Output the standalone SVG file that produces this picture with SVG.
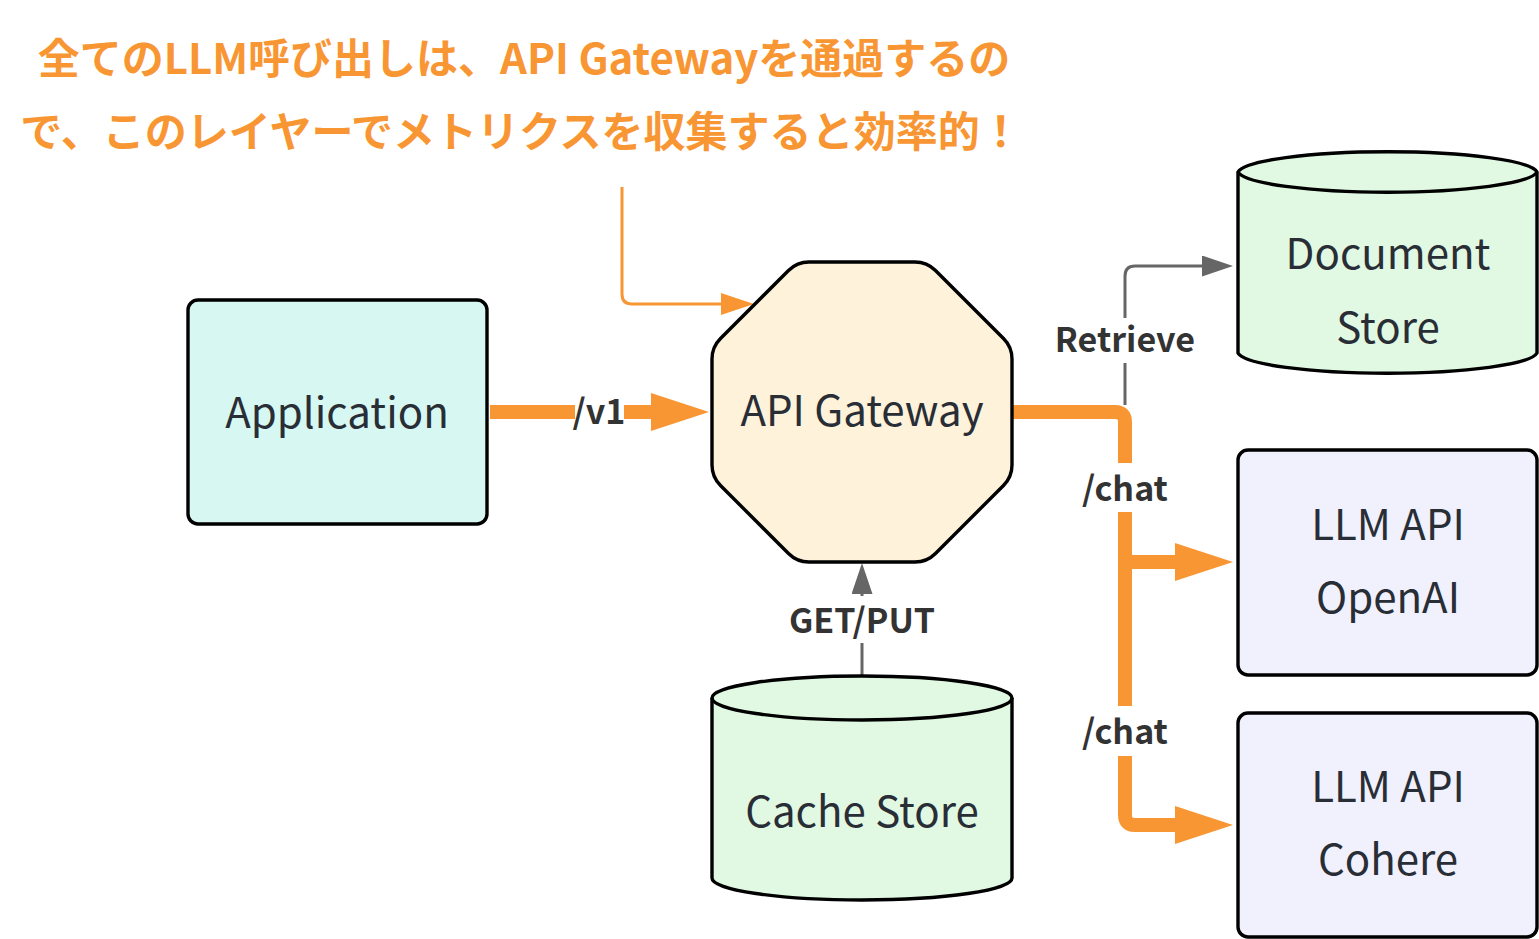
<svg xmlns="http://www.w3.org/2000/svg" width="1539" height="939" viewBox="0 0 1539 939">
<style>
.node{stroke:#000;stroke-width:3.4}
.nt{font-family:"Noto Sans CJK JP","Noto Sans",sans-serif;font-size:42px;fill:#292e36;text-anchor:middle}
.lt{font-family:"Noto Sans CJK JP","Noto Sans",sans-serif;font-size:34px;font-weight:bold;fill:#333;text-anchor:middle}
.lbg{fill:#fff}
.thick{fill:none;stroke:#f99634;stroke-width:14}
.thin{fill:none;stroke:#f99634;stroke-width:3}
.gray{fill:none;stroke:#666;stroke-width:3}
.title{font-family:"Noto Sans CJK JP",sans-serif;font-size:42px;font-weight:bold;fill:#f99634;text-anchor:middle}
</style>
<defs>
<marker id="ob" markerUnits="userSpaceOnUse" viewBox="0 0 58 38" markerWidth="58" markerHeight="38" refX="0" refY="19" orient="auto"><path d="M0,0 L58,19 L0,38 Z" fill="#f99634"/></marker>
<marker id="os" markerUnits="userSpaceOnUse" viewBox="0 0 33 22" markerWidth="33" markerHeight="22" refX="0" refY="11" orient="auto"><path d="M0,0 L33,11 L0,22 Z" fill="#f99634"/></marker>
<marker id="gr" markerUnits="userSpaceOnUse" viewBox="0 0 31 21" markerWidth="31" markerHeight="21" refX="0" refY="10.5" orient="auto"><path d="M0,0 L31,10.5 L0,21 Z" fill="#666"/></marker>
</defs>
<rect width="1539" height="939" fill="#fff"/>
<g id="title">
<text class="title" x="524" y="74">全てのLLM呼び出しは、API Gatewayを通過するの</text>
<text class="title" x="521" y="147">で、このレイヤーでメトリクスを収集すると効率的！</text>
</g>
<g id="connectors">
<path class="thin" d="M622,187 L622,294 Q622,304 632,304 L721,304" marker-end="url(#os)"/>
<path class="thick" d="M490,412 L651,412" marker-end="url(#ob)"/>
<path class="thick" d="M1013,412 L1115,412 Q1125,412 1125,422 L1125,815 Q1125,825 1135,825 L1175,825" marker-end="url(#ob)"/>
<path class="thick" d="M1125,562 L1175,562" marker-end="url(#ob)"/>
<path class="gray" d="M1125,405 L1125,276 Q1125,266 1135,266 L1202,266" marker-end="url(#gr)"/>
<path class="gray" d="M862,676 L862,594" marker-end="url(#gr)"/>
<rect class="lbg" x="575" y="394" width="49" height="38"/>
<text class="lt" x="599" y="424">/v1</text>
<rect class="lbg" x="1056" y="318" width="139" height="45"/>
<text class="lt" x="1125" y="352">Retrieve</text>
<rect class="lbg" x="1082" y="463" width="86" height="49"/>
<text class="lt" x="1125" y="501">/chat</text>
<rect class="lbg" x="1082" y="706" width="86" height="50"/>
<text class="lt" x="1125" y="744">/chat</text>
<rect class="lbg" x="787" y="596" width="150" height="47"/>
<text class="lt" x="862" y="633">GET/PUT</text>
</g>
<g id="application">
<rect class="node" x="188" y="300" width="299" height="224" rx="10" fill="#d7f8f2"/>
<text class="nt" x="337" y="428">Application</text>
</g>
<g id="gateway">
<path class="node" fill="#fef3da" d="M809,262 L915,262 Q927,262 935.5,270.5 L1003.5,338.5 Q1012,347 1012,359 L1012,465 Q1012,477 1003.5,485.5 L935.5,553.5 Q927,562 915,562 L809,562 Q797,562 788.5,553.5 L720.5,485.5 Q712,477 712,465 L712,359 Q712,347 720.5,338.5 L788.5,270.5 Q797,262 809,262 Z"/>
<text class="nt" x="862" y="426">API Gateway</text>
</g>
<g id="document-store">
<path class="node" fill="#e1f9e2" d="M1238,172 A150,22 0 0 1 1537,172 L1537,353 A150,22 0 0 1 1238,353 Z"/>
<path class="node" fill="none" d="M1238,172 A150,22 0 0 0 1537,172"/>
<text class="nt" x="1388" y="269">Document</text>
<text class="nt" x="1388" y="343">Store</text>
</g>
<g id="llm-openai">
<rect class="node" x="1238" y="450" width="299" height="225" rx="10" fill="#f0f1fd"/>
<text class="nt" x="1388" y="540">LLM API</text>
<text class="nt" x="1388" y="613">OpenAI</text>
</g>
<g id="llm-cohere">
<rect class="node" x="1238" y="713" width="299" height="224" rx="10" fill="#f0f1fd"/>
<text class="nt" x="1388" y="802">LLM API</text>
<text class="nt" x="1388" y="875">Cohere</text>
</g>
<g id="cache-store">
<path class="node" fill="#e1f9e2" d="M712,698 A150,22 0 0 1 1012,698 L1012,878 A150,22 0 0 1 712,878 Z"/>
<path class="node" fill="none" d="M712,698 A150,22 0 0 0 1012,698"/>
<text class="nt" x="862" y="827">Cache Store</text>
</g>
</svg>
